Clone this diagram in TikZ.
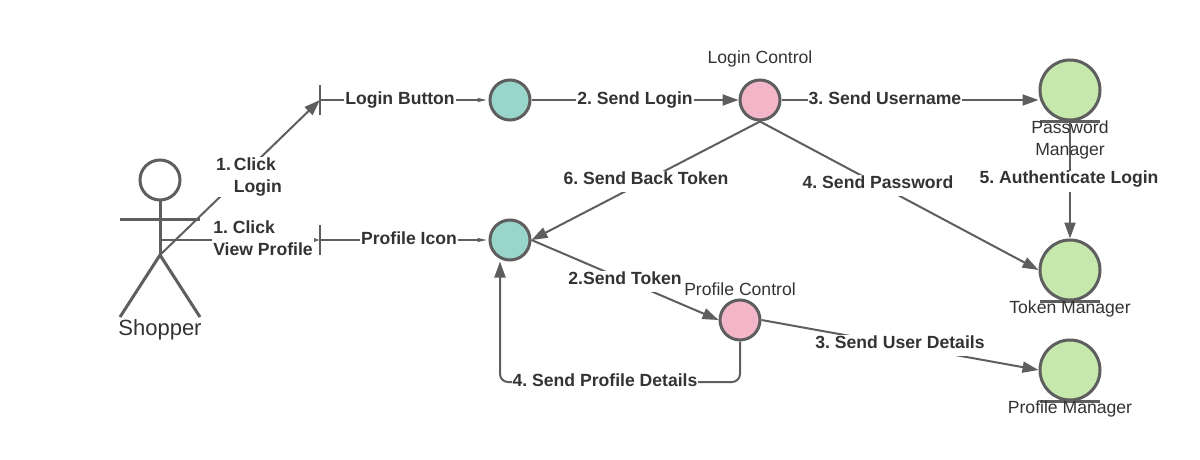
\documentclass[tikz,border=0pt]{standalone}
\usepackage{fontspec}
\setmainfont{Liberation Sans}
\usetikzlibrary{arrows.meta}
\definecolor{linegray}{HTML}{5E5E5E}
\definecolor{textgray}{HTML}{333333}
\definecolor{tealfill}{HTML}{99D5CA}
\definecolor{pinkfill}{HTML}{F5B5C8}
\definecolor{greenfill}{HTML}{C7E8AC}
\frenchspacing
\tikzset{
    conn/.style={draw=linegray, line width=2pt},
    flow/.style={conn, -{Triangle[length=16pt, width=11pt]}},
    stub/.style={conn, -{Triangle[length=11pt, width=3.5pt]}},
    thickline/.style={draw=linegray, line width=3pt},
    lblbase/.style={fill=white, text=textgray, font=\fontsize{17.6}{22}\selectfont\bfseries, inner sep=1pt},
    lbl/.style={lblbase, text height=13pt, text depth=8pt, inner ysep=0pt, yshift=-2pt},
    lblblock/.style={lblbase, align=left},
    captext/.style={text=textgray, font=\fontsize{17.6}{22}\selectfont, inner sep=0pt, align=center},
    smallball/.style={circle, draw=linegray, line width=3pt, minimum size=40pt, inner sep=0pt},
    largeball/.style={circle, draw=linegray, line width=3pt, fill=greenfill, minimum size=60pt, inner sep=0pt},
}
\begin{document}
\begin{tikzpicture}[x=1pt, y=-1pt]
        \useasboundingbox (0, 0) rectangle (1200, 460);

        \node [smallball, fill=tealfill] (login) at (510, 100) {};
        \node [smallball, fill=tealfill] (icon) at (510, 240) {};
        \node [smallball, fill=pinkfill] (loginctl) at (760, 100) {};
        \node [smallball, fill=pinkfill] (profilectl) at (740, 320) {};
        \node [largeball] (passmgr) at (1070, 90) {};
        \node [largeball] (tokenmgr) at (1070, 270) {};
        \node [largeball] (profilemgr) at (1070, 370) {};

        \foreach \m in {passmgr, tokenmgr, profilemgr} {
            \draw [thickline] ([xshift=-30pt]\m.south) -- ([xshift=30pt]\m.south);
        }

        \coordinate (btnbar) at (320, 100);
        \coordinate (iconbar) at (320, 240);
        \foreach \b in {btnbar, iconbar} {
            \draw [conn] ([yshift=-15pt]\b) -- ([yshift=15pt]\b);
        }

        \coordinate (head) at (160, 180);
        \coordinate (neck) at (160, 200);
        \coordinate (hip) at (160, 255);
        \coordinate (waist) at (160, 240);
        \coordinate (retcorner) at (500, 382);
        \draw [thickline] (head) circle (20pt);
        \draw [thickline] (neck) -- (hip);
        \draw [thickline] (120, 219) -- (200, 219);
        \draw [thickline] (120, 317) -- (hip) -- (200, 317);
        \node [captext, font=\fontsize{22}{24}\selectfont] (shopper) at (160, 330) {Shopper};

        \draw [flow] (hip) -- (btnbar);
        \draw [conn, -{Triangle[length=7pt, width=4pt]}] (waist) -- (iconbar);
        \draw [stub] (btnbar) -- (login.west);
        \draw [stub] (iconbar) -- (icon.west);
        \draw [flow] (login) -- (loginctl);
        \draw [flow] (loginctl) -- (passmgr.west |- loginctl);
        \draw [flow] (loginctl.south) -- (icon.east);
        \draw [flow] (loginctl.south) -- (tokenmgr.west);
        \draw [flow] (passmgr.south) -- (tokenmgr.north);
        \draw [flow] (icon.east) -- (profilectl.west);
        \draw [flow] (profilectl.east) -- (profilemgr.west);
        \draw [flow, rounded corners=8pt] (profilectl.south) |- (retcorner) -- (retcorner |- icon.south);

        \node [lblblock] (clicklogin) at (249, 177) {1.\kern3pt Click\\\phantom{1.\kern3pt}Login};
        \node [lblblock] (clickprofile) at (263, 238) {1. Click\\View Profile};
        \node [lbl] (btnlabel) at (400, 99.5) {Login Button};
        \node [lbl] (iconlabel) at (409, 239.5) {Profile Icon};
        \node [lbl] (sendlogin) at (635, 99.5) {2. Send Login};
        \node [lbl] (sendname) at (885, 99.5) {3. Send Username};
        \node [lbl] (sendback) at (646, 179.5) {6. Send Back Token};
        \node [lbl] (sendpass) at (878, 183.5) {4. Send Password};
        \node [lbl] (auth) at (1069, 179) {5. Authenticate Login};
        \node [lbl] (sendtoken) at (625, 279.5) {2.Send Token};
        \node [lbl] (sendprofile) at (605, 381.5) {4. Send Profile Details};
        \node [lbl] (senduser) at (900, 343.5) {3. Send User Details};

        \node [captext] (loginctltext) at (760, 59) {Login Control};
        \node [captext] (profilectltext) at (740, 289) {Profile Control};
        \node [captext] (passtext) at (1070, 140) {Password\\Manager};
        \node [captext] (tokentext) at (1070, 309) {Token Manager};
        \node [captext] (profiletext) at (1070, 409) {Profile Manager};
        \end{tikzpicture}
\end{document}
